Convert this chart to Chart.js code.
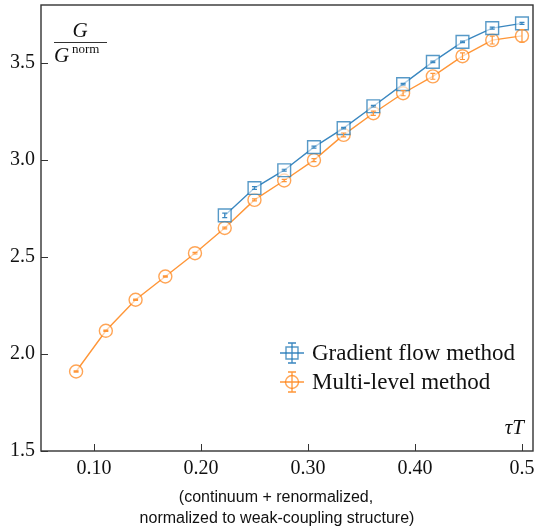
<!DOCTYPE html>
<html>
<head>
<meta charset="utf-8">
<script src="https://cdn.jsdelivr.net/npm/chart.js@4"></script>
<style>
  html, body { margin: 0; padding: 0; background: #fff; }
  #wrap { width: 538px; height: 527px; }
</style>
</head>
<body>
<div id="wrap"><canvas id="chart"></canvas></div>
<script>
// tau*T values and G/G^norm
const tauMulti = [0.0833, 0.1111, 0.1389, 0.1667, 0.1944, 0.2222, 0.25, 0.2778, 0.3056, 0.3333, 0.3611, 0.3889, 0.4167, 0.4444, 0.4722, 0.5];
const multiLevel = [1.91, 2.12, 2.28, 2.40, 2.52, 2.65, 2.795, 2.895, 3.0, 3.13, 3.242, 3.345, 3.432, 3.536, 3.619, 3.641];
const multiLevelErr = [0.003, 0.003, 0.003, 0.003, 0.004, 0.004, 0.005, 0.006, 0.008, 0.01, 0.011, 0.013, 0.015, 0.017, 0.02, 0.032];

const tauGrad = [0.2222, 0.25, 0.2778, 0.3056, 0.3333, 0.3611, 0.3889, 0.4167, 0.4444, 0.4722, 0.5];
const gradFlow = [2.715, 2.856, 2.948, 3.067, 3.165, 3.278, 3.392, 3.507, 3.61, 3.681, 3.705];
const gradFlowErr = [0.012, 0.007, 0.005, 0.005, 0.004, 0.004, 0.004, 0.004, 0.004, 0.005, 0.005];

const xTicks = [0.1, 0.2, 0.3, 0.4, 0.5];
const xTickLabels = ['0.10', '0.20', '0.30', '0.40', '0.5'];
const yTicks = [1.5, 2.0, 2.5, 3.0, 3.5];
const yTickLabels = ['1.5', '2.0', '2.5', '3.0', '3.5'];

const seriesNames = ['Gradient flow method', 'Multi-level method'];
const xTitle = ['(continuum + renormalized,', 'normalized to weak-coupling structure)'];

const BLUE = '#3a87c0';
const BLUE_M = 'rgba(31,119,180,0.75)';
const ORANGE = '#ff9638';
const ORANGE_M = 'rgba(255,127,14,0.7)';
const SERIF = '"Liberation Serif", "DejaVu Serif", serif';

const toPts = (xs, ys) => xs.map((v, i) => ({x: v, y: ys[i]}));

function errBar(ctx, px, top, bot, cap) {
    ctx.beginPath();
    ctx.moveTo(px, top); ctx.lineTo(px, bot);
    ctx.moveTo(px - cap, top); ctx.lineTo(px + cap, top);
    ctx.moveTo(px - cap, bot); ctx.lineTo(px + cap, bot);
    ctx.stroke();
}

const decor = {
    id: 'decor',
    afterDatasetsDraw(chart) {
        const {ctx, scales: {x, y}} = chart;
        ctx.save();
        chart.data.datasets.forEach(ds => {
            ctx.strokeStyle = ds.borderColor;
            ctx.lineWidth = 1.2;
            ds.data.forEach((p, j) => {
                const px = x.getPixelForValue(p.x);
                errBar(ctx, px, y.getPixelForValue(p.y + ds.yErr[j]), y.getPixelForValue(p.y - ds.yErr[j]), 2.5);
            });
        });
        ctx.restore();
    },
    afterDraw(chart) {
        const {ctx, chartArea: a, scales: {x, y}} = chart;
        ctx.save();
        // frame
        ctx.strokeStyle = '#333';
        ctx.lineWidth = 1.4;
        ctx.strokeRect(a.left, a.top, a.right - a.left, a.bottom - a.top);
        // inward ticks
        ctx.beginPath();
        x.ticks.forEach(t => {
            const px = Math.round(x.getPixelForValue(t.value)) + 0.5;
            ctx.moveTo(px, a.bottom); ctx.lineTo(px, a.bottom - 7);
        });
        y.ticks.forEach(t => {
            const py = Math.round(y.getPixelForValue(t.value)) + 0.5;
            ctx.moveTo(a.left, py); ctx.lineTo(a.left + 7, py);
        });
        ctx.lineWidth = 1;
        ctx.stroke();

        // y label as a fraction
        ctx.fillStyle = '#111';
        ctx.textBaseline = 'alphabetic';
        ctx.textAlign = 'center';
        ctx.font = 'italic 21px ' + SERIF;
        ctx.fillText('G', 80, 37);
        ctx.beginPath();
        ctx.moveTo(54, 42.5); ctx.lineTo(107, 42.5);
        ctx.lineWidth = 1; ctx.stroke();
        ctx.textAlign = 'left';
        ctx.fillText('G', 54, 62);
        ctx.font = '13px ' + SERIF;
        ctx.fillText('norm', 72, 53);

        // tau T
        ctx.textAlign = 'right';
        ctx.font = 'italic 21px ' + SERIF;
        ctx.fillText('\u03C4T', 524, 434);

        // x title below the axis
        ctx.textAlign = 'center';
        ctx.font = '16px "Liberation Sans", Arial, sans-serif';
        ctx.fillText(xTitle[0], 276, 502);
        ctx.fillText(xTitle[1], 277, 523);

        // legend
        chart.data.datasets.forEach((ds, i) => {
            const cy = 353 + i * 29;
            const cx = 292;
            ctx.strokeStyle = ds.borderColor;
            ctx.lineWidth = 1.5;
            ctx.beginPath();
            ctx.moveTo(cx - 12, cy); ctx.lineTo(cx + 12, cy);
            ctx.stroke();
            ctx.lineWidth = 1.3;
            errBar(ctx, cx, cy - 10, cy + 10, 4);
            ctx.strokeStyle = ds.pointBorderColor;
            ctx.lineWidth = 1.4;
            ctx.beginPath();
            if (ds.pointStyle === 'rect') ctx.rect(cx - 6, cy - 6, 12, 12);
            else ctx.arc(cx, cy, 6.5, 0, Math.PI * 2);
            ctx.stroke();
            ctx.fillStyle = '#111';
            ctx.textAlign = 'left';
            ctx.textBaseline = 'middle';
            ctx.font = '23px ' + SERIF;
            ctx.fillText(ds.label, 312, cy + 1);
        });
        ctx.restore();
    }
};

new Chart(document.getElementById('chart'), {
    type: 'line',
    data: {
        datasets: [
            {
                label: seriesNames[0],
                data: toPts(tauGrad, gradFlow),
                yErr: gradFlowErr,
                borderColor: BLUE,
                borderWidth: 1.4,
                pointStyle: 'rect',
                pointRadius: 9,
                pointBorderColor: BLUE_M,
                pointBackgroundColor: 'rgba(255,255,255,0.6)',
                pointBorderWidth: 1.4,
                tension: 0
            },
            {
                label: seriesNames[1],
                data: toPts(tauMulti, multiLevel),
                yErr: multiLevelErr,
                borderColor: ORANGE,
                borderWidth: 1.4,
                pointStyle: 'circle',
                pointRadius: 6.5,
                pointBorderColor: ORANGE_M,
                pointBackgroundColor: 'rgba(255,255,255,0.6)',
                pointBorderWidth: 1.4,
                tension: 0
            }
        ]
    },
    options: {
        responsive: true,
        maintainAspectRatio: false,
        animation: false,
        layout: { autoPadding: false, padding: { top: 5, right: 5, left: 0, bottom: 0 } },
        plugins: { legend: { display: false }, tooltip: { enabled: false } },
        scales: {
            x: {
                type: 'linear',
                min: 0.0505,
                max: 0.5103,
                afterBuildTicks: s => { s.ticks = xTicks.map(v => ({value: v})); },
                afterFit: s => { s.height = 76; s.paddingLeft = 0; s.paddingRight = 0; },
                grid: { display: false, drawTicks: false },
                border: { display: false },
                ticks: {
                    padding: 6,
                    color: '#111',
                    font: { family: SERIF, size: 20 },
                    callback: (v, i) => xTickLabels[i]
                }
            },
            y: {
                type: 'linear',
                min: 1.5,
                max: 3.8,
                afterBuildTicks: s => { s.ticks = yTicks.map(v => ({value: v})); },
                afterFit: s => { s.width = 41; s.paddingTop = 0; s.paddingBottom = 0; },
                grid: { display: false, drawTicks: false },
                border: { display: false },
                ticks: {
                    padding: 6,
                    color: '#111',
                    font: { family: SERIF, size: 20 },
                    callback: (v, i) => yTickLabels[i]
                }
            }
        }
    },
    plugins: [decor]
});
</script>
</body>
</html>
